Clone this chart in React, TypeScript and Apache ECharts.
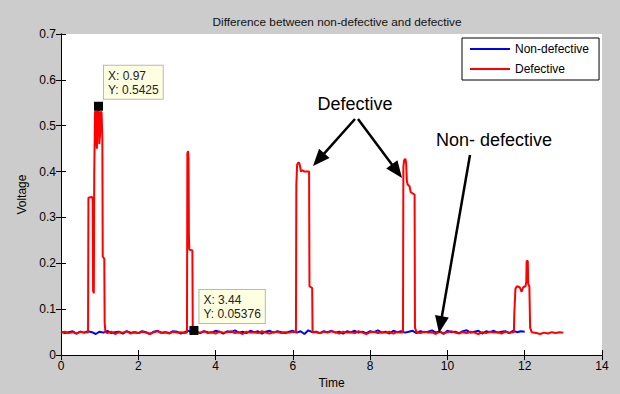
import React, { useEffect, useRef } from "react";
import * as echarts from "echarts";

// Non-defective signal: sampled every 0.1 s starting at t = 0
const nonDefectiveStart = 0;
const nonDefectiveStep = 0.1;
const nonDefectiveVoltage = [
  0.051, 0.048, 0.050, 0.052, 0.047, 0.051, 0.049, 0.052, 0.050, 0.046, 0.051, 0.049, 0.053, 0.048, 0.050, 0.051, 0.047, 0.052, 0.049, 0.050,
  0.048, 0.052, 0.050, 0.046, 0.051, 0.053, 0.049, 0.050, 0.048, 0.052, 0.051, 0.047, 0.050, 0.053, 0.049, 0.051, 0.048, 0.052, 0.050, 0.049,
  0.053, 0.051, 0.047, 0.052, 0.050, 0.054, 0.049, 0.051, 0.048, 0.053, 0.050, 0.052, 0.047, 0.051, 0.053, 0.049, 0.052, 0.050, 0.048, 0.051,
  0.053, 0.049, 0.052, 0.046, 0.054, 0.050, 0.051, 0.048, 0.052, 0.050, 0.053, 0.049, 0.051, 0.047, 0.052, 0.050, 0.053, 0.049, 0.051, 0.048,
  0.052, 0.050, 0.054, 0.049, 0.051, 0.047, 0.053, 0.050, 0.052, 0.049, 0.051, 0.053, 0.048, 0.052, 0.050, 0.051, 0.054, 0.049, 0.052, 0.046,
  0.053, 0.050, 0.051, 0.048, 0.052, 0.054, 0.049, 0.051, 0.053, 0.047, 0.052, 0.050, 0.053, 0.049, 0.051, 0.052, 0.048, 0.053, 0.050, 0.052, 0.051,
];

// Defective signal
const defectiveTime = [
  0.0, 0.1, 0.2, 0.3, 0.4, 0.5, 0.6, 0.7,
  0.71, 0.8, 0.82, 0.83, 0.85, 0.86, 0.88, 0.9, 0.91, 0.93, 0.94, 0.97, 0.99, 1.01, 1.02, 1.05, 1.07, 1.08, 1.12, 1.13, 1.15,
  1.2, 1.3, 1.4, 1.5, 1.6, 1.7, 1.8, 1.9, 2.0, 2.1, 2.2, 2.3, 2.4, 2.5, 2.6, 2.7, 2.8, 2.9, 3.0, 3.1, 3.2,
  3.26, 3.27, 3.29, 3.3, 3.31, 3.32, 3.4, 3.41, 3.44,
  3.5, 3.6, 3.7, 3.8, 3.9, 4.0, 4.1, 4.2, 4.3, 4.4, 4.5, 4.6, 4.7, 4.8, 4.9, 5.0, 5.1, 5.2, 5.3, 5.4, 5.5, 5.6, 5.7, 5.8, 5.9, 6.0,
  6.08, 6.09, 6.11, 6.14, 6.17, 6.19, 6.21, 6.25, 6.3, 6.42, 6.43, 6.5, 6.51, 6.55,
  6.6, 6.7, 6.8, 6.9, 7.0, 7.1, 7.2, 7.3, 7.4, 7.5, 7.6, 7.7, 7.8, 7.9, 8.0, 8.1, 8.2, 8.3, 8.4, 8.5, 8.6, 8.7, 8.8,
  8.85, 8.86, 8.88, 8.91, 8.93, 8.95, 8.97, 9.02, 9.05, 9.15, 9.16, 9.2,
  9.3, 9.4, 9.5, 9.6, 9.7, 9.8, 9.9, 10.0, 10.1, 10.2, 10.3, 10.4, 10.5, 10.6, 10.7, 10.8, 10.9, 11.0, 11.1, 11.2, 11.3, 11.4, 11.5, 11.6, 11.7,
  11.72, 11.73, 11.76, 11.8, 11.87, 11.92, 11.96, 12.02, 12.04, 12.05, 12.08, 12.09, 12.12, 12.14, 12.18,
  12.3, 12.4, 12.5, 12.6, 12.7, 12.8, 12.9, 13.0,
];
const defectiveVoltage = [
  0.049, 0.051, 0.048, 0.050, 0.047, 0.051, 0.049, 0.050,
  0.343, 0.345, 0.34, 0.14, 0.135, 0.39, 0.53, 0.532, 0.47, 0.45, 0.53, 0.5425, 0.46, 0.48, 0.53, 0.53, 0.47, 0.215, 0.21, 0.07, 0.05,
  0.048, 0.051, 0.046, 0.050, 0.049, 0.052, 0.047, 0.050, 0.048, 0.051, 0.049, 0.046, 0.050, 0.052, 0.048, 0.050, 0.047, 0.051, 0.049, 0.050, 0.048,
  0.049, 0.44, 0.445, 0.43, 0.26, 0.23, 0.228, 0.05, 0.05376,
  0.051, 0.049, 0.052, 0.048, 0.050, 0.047, 0.051, 0.049, 0.050, 0.052, 0.048, 0.050, 0.046, 0.051, 0.049, 0.050, 0.048, 0.052, 0.049, 0.047, 0.050, 0.051, 0.048, 0.050, 0.049, 0.051,
  0.05, 0.37, 0.415, 0.42, 0.418, 0.41, 0.40, 0.403, 0.40, 0.40, 0.15, 0.146, 0.05, 0.05,
  0.050, 0.048, 0.051, 0.049, 0.052, 0.050, 0.047, 0.051, 0.049, 0.050, 0.048, 0.052, 0.049, 0.046, 0.050, 0.051, 0.048, 0.050, 0.049, 0.051, 0.047, 0.050, 0.049,
  0.05, 0.41, 0.425, 0.428, 0.42, 0.38, 0.372, 0.368, 0.355, 0.35, 0.06, 0.05,
  0.048, 0.051, 0.049, 0.050, 0.046, 0.051, 0.048, 0.050, 0.052, 0.049, 0.047, 0.050, 0.048, 0.051, 0.049, 0.046, 0.050, 0.048, 0.051, 0.049, 0.050, 0.047, 0.051, 0.049, 0.050,
  0.05, 0.09, 0.145, 0.15, 0.148, 0.138, 0.148, 0.15, 0.16, 0.205, 0.205, 0.155, 0.15, 0.06, 0.05,
  0.048, 0.046, 0.049, 0.047, 0.050, 0.048, 0.050, 0.049,
];

// Data tips
const tipTime = [0.97, 3.44];
const tipVoltage = [0.5425, 0.05376];

const seriesNames = ["Non-defective", "Defective"];
const seriesColors = ["#0000ff", "#ff0000"];

const FONT = "Liberation Sans, Arial, sans-serif";

function arrow(x1: number, y1: number, x2: number, y2: number) {
  const dx = x2 - x1;
  const dy = y2 - y1;
  const len = Math.sqrt(dx * dx + dy * dy);
  const ux = dx / len;
  const uy = dy / len;
  const headLen = 17;
  const halfW = 7;
  const bx = x2 - ux * headLen;
  const by = y2 - uy * headLen;
  const px = -uy;
  const py = ux;
  return [
    {
      type: "line",
      z: 100,
      shape: { x1, y1, x2: bx + ux * 2, y2: by + uy * 2 },
      style: { stroke: "#000", lineWidth: 2.5 },
    },
    {
      type: "polygon",
      z: 100,
      shape: {
        points: [
          [x2, y2],
          [bx + px * halfW, by + py * halfW],
          [bx - px * halfW, by - py * halfW],
        ],
      },
      style: { fill: "#000" },
    },
  ];
}

export default function App() {
  const ref = useRef<HTMLDivElement>(null);
  useEffect(() => {
    const chart = echarts.init(ref.current!, null, { renderer: "svg" });
    const nonDefData = nonDefectiveVoltage.map((v, i) => [nonDefectiveStart + i * nonDefectiveStep, v]);
    const defData = defectiveTime.map((t, i) => [t, defectiveVoltage[i]]);
    const tipData = tipTime.map((t, i) => [t, tipVoltage[i]]);

    const axisCommon = {
      axisLine: { show: true, lineStyle: { color: "#000", width: 1 } },
      axisTick: { show: true, inside: true, length: 5, lineStyle: { color: "#000" } },
      splitLine: { show: false },
    };

    const option: any = {
      animation: false,
      backgroundColor: "#cccccc",
      title: {
        text: "Difference between non-defective and defective",
        left: 332,
        textAlign: "center",
        top: 11,
        textStyle: { fontFamily: FONT, fontSize: 11.8, fontWeight: "normal", color: "#111" },
      },
      grid: {
        left: 61,
        right: 18,
        top: 34,
        bottom: 33,
        show: true,
        backgroundColor: "#ffffff",
        borderWidth: 0,
      },
      legend: {
        data: seriesNames,
        orient: "vertical",
        left: 462,
        top: 38,
        backgroundColor: "#ffffff",
        borderColor: "#000",
        borderWidth: 1,
        padding: [5, 10, 5, 8],
        itemGap: 8,
        itemWidth: 40,
        itemHeight: 2,
        icon: "rect",
        textStyle: { fontFamily: FONT, fontSize: 12, color: "#000" },
      },
      xAxis: [
        {
          type: "value",
          min: 0,
          max: 14,
          interval: 2,
          position: "bottom",
          ...axisCommon,
          axisLabel: { color: "#000", fontFamily: FONT, fontSize: 12, margin: 5 },
          name: "Time",
          nameLocation: "middle",
          nameGap: 20,
          nameTextStyle: { fontFamily: FONT, fontSize: 12, color: "#000" },
        },
        {
          type: "value",
          min: 0,
          max: 14,
          interval: 2,
          position: "top",
          ...axisCommon,
          axisLabel: { show: false },
        },
      ],
      yAxis: [
        {
          type: "value",
          min: 0,
          max: 0.7,
          interval: 0.1,
          position: "left",
          ...axisCommon,
          axisLabel: { color: "#000", fontFamily: FONT, fontSize: 12, margin: 5 },
          name: "Voltage",
          nameLocation: "middle",
          nameGap: 33,
          nameTextStyle: { fontFamily: FONT, fontSize: 12, color: "#000" },
        },
        {
          type: "value",
          min: 0,
          max: 0.7,
          interval: 0.1,
          position: "right",
          ...axisCommon,
          axisLabel: { show: false },
        },
      ],
      series: [
        {
          name: seriesNames[0],
          type: "line",
          data: nonDefData,
          showSymbol: false,
          color: seriesColors[0],
          lineStyle: { color: seriesColors[0], width: 2 },
          z: 2,
        },
        {
          name: seriesNames[1],
          type: "line",
          data: defData,
          showSymbol: false,
          color: seriesColors[1],
          lineStyle: { color: seriesColors[1], width: 2 },
          z: 3,
        },
        {
          name: "tips",
          type: "scatter",
          data: tipData,
          symbol: "rect",
          symbolSize: 9,
          itemStyle: { color: "#000", opacity: 1 },
          z: 5,
          label: {
            show: true,
            position: [10, -36],
            align: "left",
            verticalAlign: "top",
            formatter: (p: any) => `X: ${p.value[0]}\nY: ${p.value[1]}`,
            backgroundColor: "#ffffe1",
            borderColor: "#b8b8b8",
            borderWidth: 1,
            padding: [3, 4, 2, 4],
            color: "#222",
            opacity: 1,
            fontFamily: FONT,
            fontSize: 12,
            lineHeight: 14,
          },
        },
      ],
      graphic: [
        {
          type: "text",
          z: 100,
          x: 355,
          y: 104,
          style: {
            text: "Defective",
            fill: "#000",
            font: `18px ${FONT}`,
            textAlign: "center",
            textVerticalAlign: "middle",
          },
        },
        {
          type: "text",
          z: 100,
          x: 494,
          y: 140,
          style: {
            text: "Non- defective",
            fill: "#000",
            font: `18px ${FONT}`,
            textAlign: "center",
            textVerticalAlign: "middle",
          },
        },
        ...arrow(355, 119, 313, 166),
        ...arrow(358, 119, 402, 178),
        ...arrow(470, 155, 439, 333),
      ],
    };
    chart.setOption(option);
    return () => chart.dispose();
  }, []);
  return (
    <div
      ref={ref}
      style={{ position: "fixed", left: 0, top: 0, width: 620, height: 394 }}
    />
  );
}
